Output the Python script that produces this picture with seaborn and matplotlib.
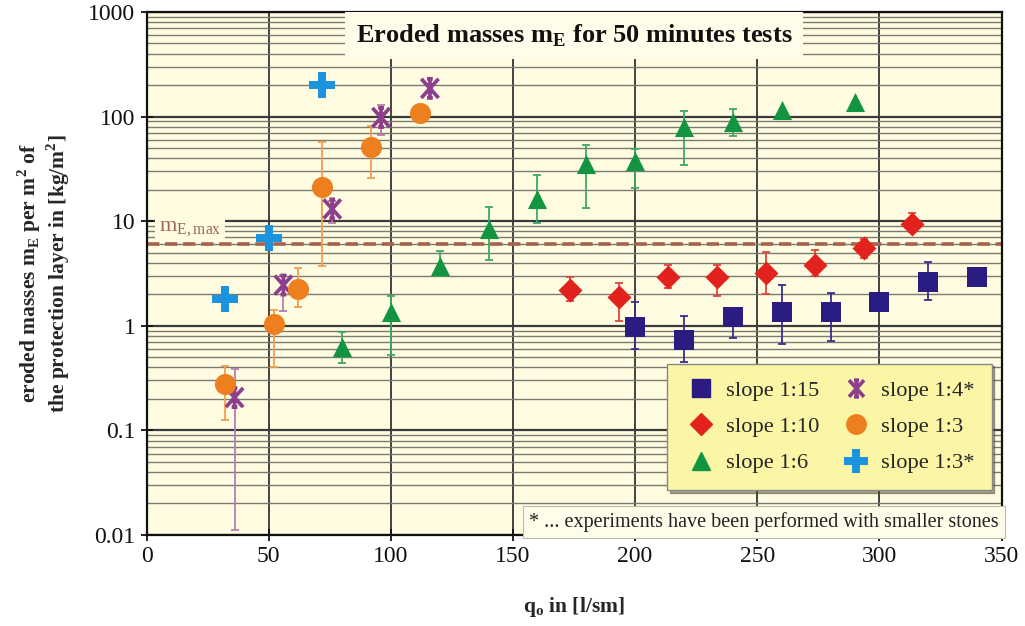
import numpy as np
import pandas as pd
import matplotlib
matplotlib.use("Agg")
import matplotlib.pyplot as plt
from matplotlib.lines import Line2D
from matplotlib.path import Path
from matplotlib.ticker import FixedLocator, FuncFormatter, LogLocator, NullFormatter
import seaborn as sns

nan = np.nan

# ---------------- data ----------------
q_15 = [200, 220, 240, 260, 280, 300, 320, 340]
m_15 = [0.98, 0.73, 1.2, 1.34, 1.34, 1.7, 2.6, 2.9]
lo_15 = [0.6, 0.45, 0.77, 0.67, 0.71, nan, 1.76, nan]
hi_15 = [1.7, 1.25, 1.3, 2.47, 2.05, nan, 4.09, nan]

q_10 = [173.5, 193.5, 213.5, 233.5, 253.5, 273.5, 293.5, 313.5]
m_10 = [2.2, 1.9, 2.95, 2.9, 3.2, 3.85, 5.6, 9.4]
lo_10 = [1.71, 1.12, 2.32, 1.91, 2.01, 2.96, 4.4, 7.9]
hi_10 = [2.9, 2.54, 3.83, 3.8, 5.1, 5.3, 6.74, 11.9]

q_6 = [80, 100, 120, 140, 160, 180, 200, 220, 240, 260, 290]
m_6 = [0.63, 1.36, 3.75, 8.4, 16.3, 35.2, 37.8, 78.7, 89, 115.6, 137]
lo_6 = [0.436, 0.525, 3.0, 4.27, 9.7, 13.3, 20.7, 34.6, 65.4, nan, nan]
hi_6 = [0.877, 1.94, 5.13, 13.8, 27.6, 53.4, 49, 113, 118, nan, nan]

q_4s = [36, 56, 76, 96, 116]
m_4s = [0.206, 2.45, 13.1, 98, 186]
lo_4s = [0.0111, 1.39, 9.7, 67, nan]
hi_4s = [0.385, 3.07, 15.7, 129, nan]

q_3 = [32, 52, 62, 72, 92, 112]
m_3 = [0.277, 1.05, 2.27, 21.3, 51.5, 109]
lo_3 = [0.126, 0.40, 1.52, 3.75, 25.6, nan]
hi_3 = [0.41, 1.42, 3.53, 56.5, 81.7, nan]

q_3s = [32, 50, 72]
m_3s = [1.82, 6.9, 200]

m_E_max = 6
labels = ["slope 1:15", "slope 1:10", "slope 1:6", "slope 1:4*", "slope 1:3", "slope 1:3*"]
x_ticks = [0, 50, 100, 150, 200, 250, 300, 350]
y_ticks = [0.01, 0.1, 1, 10, 100, 1000]

# ---------------- style ----------------
sns.set_style("ticks")
plt.rcParams["font.family"] = ["Liberation Serif", "DejaVu Serif"]
plt.rcParams["mathtext.fontset"] = "custom"
plt.rcParams["mathtext.rm"] = "Liberation Serif:bold"
plt.rcParams["mathtext.bf"] = "Liberation Serif:bold"
plt.rcParams["mathtext.sf"] = "Liberation Serif"

BG = "#FFFCE2"
C15, C10, C6, C4s, C3, C3s = "#2A1C80", "#E2231D", "#129440", "#8E3F8C", "#EE7F1E", "#1C93DD"
E15, E10, E6, E4s, E3 = "#3A2D8A", "#E0453A", "#3DAA62", "#B37FAE", "#F0A050"

# X with a vertical stroke and short end bars (Excel-like star marker)
star = Path([(-0.9, -1), (0.9, 1), (-0.9, 1), (0.9, -1), (0, -1), (0, 1),
             (-0.3, 1), (0.3, 1), (-0.3, -1), (0.3, -1)],
            [Path.MOVETO, Path.LINETO] * 5)

fig = plt.figure(figsize=(10.25, 6.26), dpi=100)
ax = fig.add_axes([0.1430, 0.1454, 0.8341, 0.8355])
ax.set_facecolor(BG)
ax.set_yscale("log")
ax.set_xlim(0, 350)
ax.set_ylim(0.01, 1000)

# grid
ax.set_axisbelow(True)
ax.yaxis.set_minor_locator(LogLocator(base=10, subs=np.arange(2, 10)))
ax.yaxis.set_minor_formatter(NullFormatter())
ax.grid(True, which="major", axis="y", color="#3a3a3a", lw=1.6)
ax.grid(True, which="minor", axis="y", color="#7a7a70", lw=1.0)
ax.grid(True, which="major", axis="x", color="#222222", lw=1.2)


def err(ax, q, m, lo, hi, color):
    q, m, lo, hi = map(np.asarray, (q, m, lo, hi))
    ok = ~np.isnan(lo)
    ax.errorbar(q[ok], m[ok], yerr=[m[ok] - lo[ok], hi[ok] - m[ok]], fmt="none",
                ecolor=color, elinewidth=1.3, capsize=3, capthick=1.3, zorder=3)


err(ax, q_15, m_15, lo_15, hi_15, E15)
err(ax, q_10, m_10, lo_10, hi_10, E10)
err(ax, q_6, m_6, lo_6, hi_6, E6)
err(ax, q_4s, m_4s, lo_4s, hi_4s, E4s)
err(ax, q_3, m_3, lo_3, hi_3, E3)

sns.scatterplot(x=q_15, y=m_15, marker="s", color=C15, s=210, edgecolor=C15, linewidth=0, ax=ax, zorder=4)
sns.scatterplot(x=q_10, y=m_10, marker="D", color=C10, s=150, edgecolor=C10, linewidth=0, ax=ax, zorder=4)
sns.scatterplot(x=q_6, y=m_6, marker="^", color=C6, s=190, edgecolor=C6, linewidth=0, ax=ax, zorder=4)
sns.scatterplot(x=q_4s, y=m_4s, marker=star, facecolor="none", edgecolor=C4s, s=190, linewidth=2.7,
                ax=ax, zorder=4)
sns.scatterplot(x=q_3, y=m_3, marker="o", color=C3, s=230, edgecolor=C3, linewidth=0, ax=ax, zorder=4)
sns.scatterplot(x=q_3s, y=m_3s, marker="P", color=C3s, s=360, edgecolor=C3s, linewidth=0, ax=ax, zorder=4)

# m_E,max line
ax.axhline(m_E_max, color="#A5634E", lw=2.6, ls=(0, (3.4, 1.6)), zorder=2.5)
ax.text(5, 8.4, r"m$_\mathsf{E,max}$", color="#9A6656", fontsize=16, va="center", ha="left",
        bbox=dict(boxstyle="square,pad=0.15", facecolor=BG, edgecolor="none"), zorder=2.6)

# axes / ticks
ax.xaxis.set_major_locator(FixedLocator(x_ticks))
ax.yaxis.set_major_locator(FixedLocator(y_ticks))
ax.yaxis.set_major_formatter(FuncFormatter(lambda v, p: f"{v:g}"))
ax.tick_params(axis="both", which="major", direction="inout", length=8, width=1.3,
               labelsize=17, colors="#111111", pad=4)
ax.tick_params(axis="y", which="minor", length=0)
for s in ax.spines.values():
    s.set_linewidth(1.6)
    s.set_color("#111111")

ax.set_xlabel(r"q$_\mathrm{o}$ in [l/sm]", fontsize=15.5, fontweight="bold", labelpad=20)
ax.set_ylabel("eroded masses m$_\\mathrm{E}$ per m$^\\mathrm{2}$ of\nthe protection layer in [kg/m$^\\mathrm{2}$]",
              fontsize=15.5, fontweight="bold", labelpad=12, linespacing=1.05)

# title box
ax.text(0.5, 0.955, r"Eroded masses m$_\mathrm{E}$ for 50 minutes tests", transform=ax.transAxes,
        ha="center", va="center", fontsize=19, fontweight="bold", color="#111111",
        bbox=dict(boxstyle="square,pad=0.4", facecolor="#FFFDE9", edgecolor="none"), zorder=5)

# footnote
ax.text(0.997, 0.006, "* ... experiments have been performed with smaller stones", transform=ax.transAxes,
        ha="right", va="bottom", fontsize=14.5, color="#222222",
        bbox=dict(boxstyle="square,pad=0.3", facecolor="#FFFDE9", edgecolor="#BBBBAA", lw=0.8), zorder=5)

# legend
handles = [
    Line2D([], [], ls="none", marker="s", color=C15, ms=13),
    Line2D([], [], ls="none", marker="D", color=C10, ms=11),
    Line2D([], [], ls="none", marker="^", color=C6, ms=13),
    Line2D([], [], ls="none", marker=star, color=C4s, mfc="none", ms=12, mew=2.7),
    Line2D([], [], ls="none", marker="o", color=C3, ms=14),
    Line2D([], [], ls="none", marker="P", color=C3s, ms=17, mew=0),
]
leg = ax.legend(handles, labels, ncol=2, loc="lower left", bbox_to_anchor=(0.596, 0.064),
                fontsize=16.2, frameon=True, fancybox=False, shadow=True, facecolor="#FBF6A6",
                edgecolor="#888888", handletextpad=0.35, columnspacing=0.9, labelspacing=0.68,
                borderpad=0.75, handlelength=1.5)
leg.get_frame().set_linewidth(1.0)
leg.set_zorder(6)

fig.savefig("out.png", dpi=100, facecolor="white")
